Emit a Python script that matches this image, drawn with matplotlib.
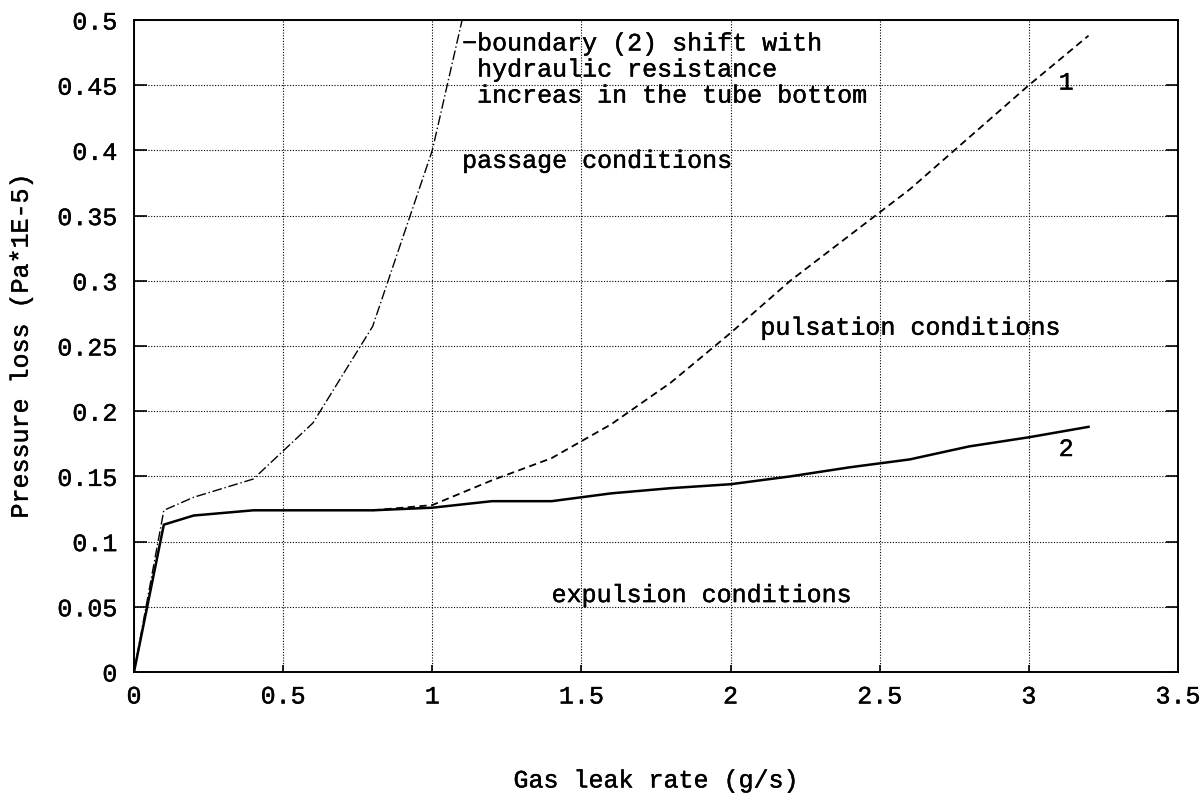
import numpy as np
import matplotlib
matplotlib.use('Agg')
import matplotlib.pyplot as plt
import matplotlib.patheffects as pe

# curve 2 (solid) - boundary expulsion / pulsation
x2 = [0, 0.1, 0.2, 0.4, 0.8, 1.0, 1.2, 1.4, 1.6, 1.8, 2.0, 2.2, 2.4, 2.6, 2.8, 3.0, 3.2]
y2 = [0, 0.113, 0.120, 0.124, 0.124, 0.126, 0.131, 0.131, 0.137, 0.141, 0.144, 0.150, 0.157, 0.163, 0.173, 0.180, 0.188]

# curve 1 (dashed) - boundary pulsation / passage
x1 = [0.8, 1.0, 1.2, 1.4, 1.6, 1.8, 2.0, 2.2, 2.4, 2.6, 2.8, 3.0, 3.2]
y1 = [0.124, 0.128, 0.147, 0.164, 0.190, 0.222, 0.260, 0.300, 0.335, 0.370, 0.410, 0.450, 0.488]

# boundary (2) shifted (dash-dot)
x3 = [0, 0.1, 0.2, 0.4, 0.6, 0.8, 1.0, 1.1]
y3 = [0, 0.124, 0.134, 0.148, 0.191, 0.265, 0.400, 0.500]

xticks = [0, 0.5, 1, 1.5, 2, 2.5, 3, 3.5]
xlabels = ['0', '0.5', '1', '1.5', '2', '2.5', '3', '3.5']
yticks = [0, 0.05, 0.1, 0.15, 0.2, 0.25, 0.3, 0.35, 0.4, 0.45, 0.5]
ylabels = ['0', '0.05', '0.1', '0.15', '0.2', '0.25', '0.3', '0.35', '0.4', '0.45', '0.5']

font = 'Liberation Mono'
fs = 18
bold = [pe.withStroke(linewidth=0.3, foreground='black')]

fig = plt.figure(figsize=(12.04, 8.01), dpi=100)
ax = fig.add_axes([134 / 1204, 129 / 801, 1044 / 1204, 652 / 801])

ax.plot(x2, y2, color='black', lw=1.8)
ax.plot(x1, y1, color='black', lw=1.3, linestyle=(0, (4, 2.5)))
ax.plot(x3, y3, color='black', lw=1.0, linestyle=(0, (7, 2, 1, 2)))

ax.set_xlim(0, 3.5)
ax.set_ylim(0, 0.5)
ax.set_xticks(xticks)
ax.set_xticklabels(xlabels, fontfamily=font, fontsize=fs, path_effects=bold)
ax.set_yticks(yticks)
ax.set_yticklabels(ylabels, fontfamily=font, fontsize=fs, path_effects=bold)
ax.tick_params(direction='in', length=9, width=1.2, top=False, right=True)
ax.tick_params(axis='x', length=5, pad=9)
ax.tick_params(axis='y', pad=12)
ax.grid(True, color='black', linestyle=(0, (1, 1.5)), lw=0.8)
for s in ax.spines.values():
    s.set_linewidth(1.4)

ax.set_xlabel('Gas leak rate (g/s)', fontfamily=font, fontsize=fs, path_effects=bold)
ax.set_ylabel('Pressure loss (Pa*1E-5)', fontfamily=font, fontsize=fs, path_effects=bold)
ax.xaxis.set_label_coords(0.5, -0.148)
ax.yaxis.set_label_coords(-0.097, 0.5)

tk = dict(fontfamily=font, fontsize=fs, va='center', ha='left', path_effects=bold)
ax.text(1.10, 0.482, '\u2212boundary (2) shift with', **tk)
ax.text(1.10, 0.462, ' hydraulic resistance', **tk)
ax.text(1.10, 0.442, ' increas in the tube bottom', **tk)
ax.text(1.10, 0.392, 'passage conditions', **tk)
ax.text(2.10, 0.264, 'pulsation conditions', **tk)
ax.text(1.40, 0.059, 'expulsion conditions', **tk)
ax.text(3.10, 0.452, '1', **tk)
ax.text(3.10, 0.171, '2', **tk)

fig.savefig('out.png', dpi=100)
